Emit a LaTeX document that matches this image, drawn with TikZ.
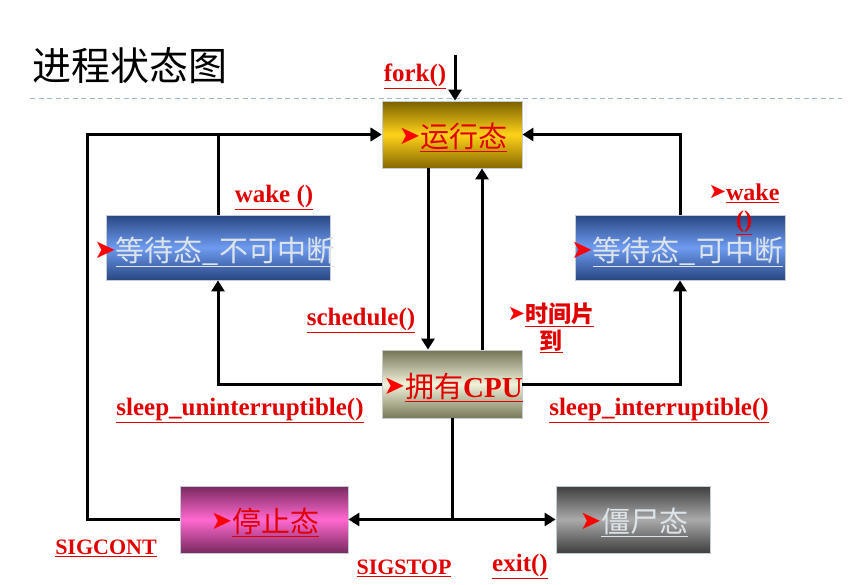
\documentclass[tikz,border=0pt]{standalone}
\usepackage{fontspec}
\setmainfont{Liberation Serif}
\newfontfamily\cjk{Noto Sans CJK SC}
\newfontfamily\symfont{DejaVu Sans}
\usetikzlibrary{arrows.meta}
\definecolor{labred}{HTML}{E00000}
\definecolor{pale}{HTML}{DCE4EA}
\definecolor{boxedge}{HTML}{C4CCD4}
\definecolor{dashblue}{HTML}{9BB9D2}
\newcommand\myul[1]{\underline{#1}}
\newcommand\arw{\raisebox{3pt}{\color{red}\symfont\fontsize{26}{26}\selectfont ➤}}
\newcommand\arws{\raisebox{2pt}{\color{red}\symfont\fontsize{21}{21}\selectfont ➤}}
\tikzset{
  conn/.style={line width=3pt, line join=miter, draw=black},
  arr/.style={conn, -{Triangle[length=11pt,width=13pt]}},
  statebox/.style={draw=boxedge, line width=0.8pt, inner sep=0pt},
  boxtxt/.style={font=\cjk\fontsize{29}{31}\selectfont, inner sep=0pt},
  lbl/.style={text=labred, font=\bfseries\fontsize{25}{27}\selectfont, inner sep=0pt},
  lblc/.style={text=labred, font=\bfseries\fontsize{22}{24}\selectfont, inner sep=0pt},
}
\begin{document}
\begin{tikzpicture}[x=1pt,y=-1pt]
\useasboundingbox (0,0) rectangle (854,584);
\fill[white] (0,0) rectangle (854,584);
% title
\node[anchor=west, inner sep=0pt, font=\cjk\fontsize{39}{41}\selectfont] (title) at (32,66) {进程状态图};
\draw[dashblue, line width=1pt, dash pattern=on 5pt off 3.5pt] (30,98) -- (842,98);
% boxes
\node[statebox, minimum width=140pt, minimum height=67pt, top color={rgb,255:red,122;green,96;blue,0}, bottom color={rgb,255:red,135;green,105;blue,0}, middle color={rgb,255:red,255;green,210;blue,26}] (run) at (452,134.5) {};
\node[statebox, minimum width=224pt, minimum height=65pt, top color={rgb,255:red,40;green,70;blue,130}, bottom color={rgb,255:red,40;green,70;blue,130}, middle color={rgb,255:red,110;green,155;blue,240}] (wu) at (218,247.5) {};
\node[statebox, minimum width=210pt, minimum height=65pt, top color={rgb,255:red,40;green,70;blue,130}, bottom color={rgb,255:red,40;green,70;blue,130}, middle color={rgb,255:red,110;green,155;blue,240}] (wi) at (680,247.5) {};
\node[statebox, minimum width=140pt, minimum height=68pt, top color={rgb,255:red,115;green,115;blue,85}, bottom color={rgb,255:red,120;green,120;blue,90}, middle color={rgb,255:red,242;green,242;blue,218}] (cpu) at (452,384) {};
\node[statebox, minimum width=168pt, minimum height=67pt, top color={rgb,255:red,120;green,40;blue,95}, bottom color={rgb,255:red,120;green,40;blue,95}, middle color={rgb,255:red,255;green,105;blue,208}] (stop) at (264,519.5) {};
\node[statebox, minimum width=154pt, minimum height=67pt, top color={rgb,255:red,62;green,62;blue,62}, bottom color={rgb,255:red,62;green,62;blue,62}, middle color={rgb,255:red,170;green,170;blue,170}] (zombie) at (633,519.5) {};
% connectors
\coordinate (forktop) at (455,55);
\draw[arr] (forktop) -- (forktop |- run.north);
\draw[arr] ([xshift=-24pt]run.south) -- ([xshift=-24pt]cpu.north);
\draw[arr] ([xshift=30pt]cpu.north) -- ([xshift=30pt]run.south);
\draw[arr] (cpu.west) -| (wu.south);
\draw[arr] (cpu.east) -| (wi.south);
\draw[arr] (wu.north) |- (run.west);
\draw[arr] (wi.north) |- (run.east);
\coordinate (lc) at (87,134.5);
\draw[arr] (stop.west) -| (lc) -- (run.west);
\coordinate (split) at (452,519.5);
\draw[conn] (cpu.south) -- (split);
\draw[arr] (split) -- (stop.east);
\draw[arr] (split) -- (zombie.west);
% box texts
\node[boxtxt, text=labred] (runtxt) at (453,137) {\arw\myul{运行态}};
\node[boxtxt, text=pale, anchor=west] (wutxt) at (94,252) {\arw\myul{等待态\_不可中断}};
\node[boxtxt, text=pale, anchor=west] (witxt) at (571,252) {\arw\myul{等待态\_可中断}};
\node[boxtxt, text=labred] (cputxt) at (453,387) {\arw\myul{拥有{\rmfamily\bfseries CPU}}};
\node[boxtxt, text=labred] (stoptxt) at (265,522) {\arw\myul{停止态}};
\node[boxtxt, text=pale] (zombietxt) at (634,522) {\arw\myul{僵尸态}};
% labels
\node[lbl] (fork) at (415,76) {\myul{fork()}};
\node[lbl] (sched) at (361,320) {\myul{schedule()}};
\node[lbl, align=center, font=\cjk\bfseries\fontsize{23}{27}\selectfont] (slice) at (551,328) {\arws\myul{时间片}\\\myul{到}};
\node[lbl] (wakeL) at (274,197) {\myul{wake ()}};
\node[lbl, align=center, font=\bfseries\fontsize{24}{27}\selectfont] (wakeR) at (744,209) {\arws\myul{wake}\\\myul{()}};
\node[lbl] (sleepU) at (240,410) {\myul{sleep\_uninterruptible()}};
\node[lbl] (sleepI) at (659,410) {\myul{sleep\_interruptible()}};
\node[lblc] (sigcont) at (106,548) {\myul{SIGCONT}};
\node[lblc] (sigstop) at (404,568) {\myul{SIGSTOP}};
\node[lbl] (exit) at (520,566) {\myul{exit()}};
\end{tikzpicture}
\end{document}
